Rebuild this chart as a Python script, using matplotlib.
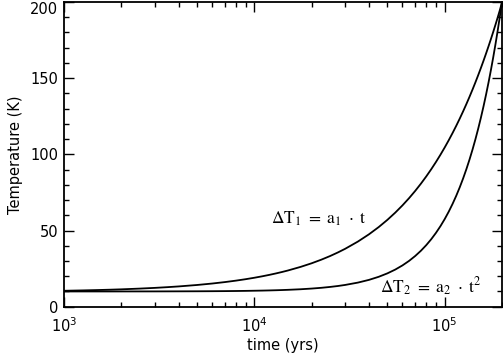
import matplotlib
matplotlib.use("Agg")
import matplotlib.pyplot as plt
from matplotlib.ticker import LogLocator, MultipleLocator

# values
time_yrs = [1000, 1250, 1500, 1750, 2000, 2500, 3000, 3500, 4000, 5000,
            6000, 7000, 8000, 9000, 10000, 11000, 12000, 13000, 14000, 15000,
            17500, 20000, 22500, 25000, 27500, 30000, 35000, 40000, 45000, 50000,
            55000, 60000, 65000, 70000, 75000, 80000, 85000, 90000, 95000, 100000,
            105000, 110000, 115000, 120000, 125000, 130000, 135000, 140000, 145000, 150000,
            155000, 160000, 165000, 170000, 175000, 180000, 185000, 190000, 195000, 200000]
dT_linear = [10.45, 10.69, 10.93, 11.16, 11.40, 11.88, 12.35, 12.83, 13.30, 14.25,
             15.20, 16.15, 17.10, 18.05, 19.00, 19.95, 20.90, 21.85, 22.80, 23.75,
             26.13, 28.50, 30.88, 33.25, 35.63, 38.00, 42.75, 47.50, 52.25, 57.00,
             61.75, 66.50, 71.25, 76.00, 80.75, 85.50, 90.25, 95.00, 99.75, 104.50,
             109.25, 114.00, 118.75, 123.50, 128.25, 133.00, 137.75, 142.50, 147.25, 152.00,
             156.75, 161.50, 166.25, 171.00, 175.75, 180.50, 185.25, 190.00, 194.75, 199.80]
dT_square = [10.00, 10.01, 10.01, 10.01, 10.02, 10.03, 10.04, 10.06, 10.08, 10.12,
             10.17, 10.23, 10.30, 10.38, 10.48, 10.57, 10.68, 10.80, 10.93, 11.07,
             11.45, 11.90, 12.40, 12.97, 13.59, 14.28, 15.82, 17.60, 19.62, 21.88,
             24.37, 27.10, 30.07, 33.28, 36.72, 40.40, 44.32, 48.48, 52.87, 57.50,
             62.37, 67.48, 72.82, 78.40, 84.22, 90.28, 96.57, 103.10, 109.87, 116.88,
             124.12, 131.60, 139.32, 147.28, 155.47, 163.90, 172.57, 181.48, 190.62, 200.00]
y_ticks = [0, 50, 100, 150, 200]

plt.rcParams['mathtext.fontset'] = 'stix'

fig = plt.figure(figsize=(5.03, 3.56), dpi=100)
ax = fig.add_axes([0.1272, 0.1385, 0.8708, 0.8559])

ax.plot(time_yrs, dT_linear, color='black', linewidth=1.3)
ax.plot(time_yrs, dT_square, color='black', linewidth=1.3)

ax.set_xscale('log')
ax.set_xlim(1e3, 2e5)
ax.set_ylim(0, 200)
ax.set_yticks(y_ticks)
ax.yaxis.set_minor_locator(MultipleLocator(10))
ax.xaxis.set_minor_locator(LogLocator(base=10, subs=range(2, 10)))

for s in ax.spines.values():
    s.set_linewidth(1.3)
ax.tick_params(which='both', direction='in', top=True, right=True,
               labelsize=10.5, width=1.0)
ax.tick_params(axis='x', pad=7)
ax.tick_params(axis='y', pad=4)
ax.tick_params(which='major', length=7)
ax.tick_params(which='minor', length=3.5)

# top label sits below the tick, as in the reference
ax.yaxis.get_major_ticks()[-1].label1.set_verticalalignment('top')

ax.set_xlabel('time (yrs)', fontsize=10.5, labelpad=2)
ax.set_ylabel('Temperature (K)', fontsize=10.5, labelpad=5)

ax.text(1.23e4, 58, r'$\Delta\mathrm{T}_1\ =\ \mathrm{a}_1\ \cdot\ \mathrm{t}$',
        fontsize=12.5, ha='left', va='center')
ax.text(4.55e4, 13, r'$\Delta\mathrm{T}_2\ =\ \mathrm{a}_2\ \cdot\ \mathrm{t}^2$',
        fontsize=12.5, ha='left', va='center')

fig.savefig('out.png', dpi=100)
